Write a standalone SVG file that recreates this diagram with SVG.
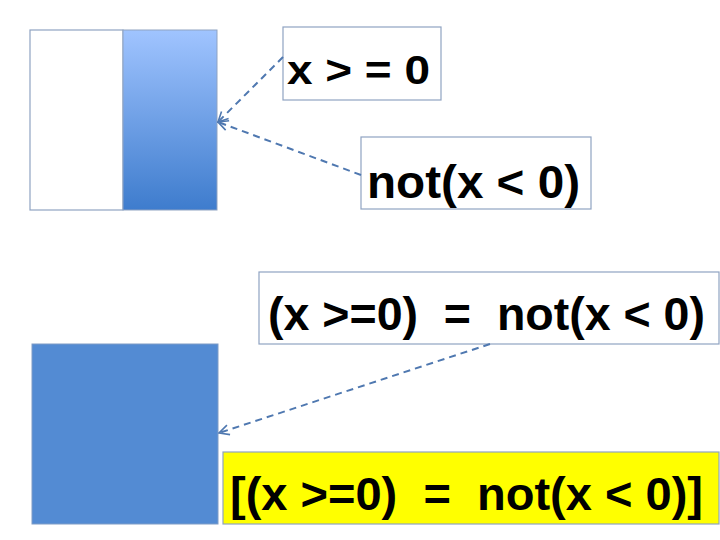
<svg xmlns="http://www.w3.org/2000/svg" width="720" height="540" viewBox="0 0 720 540">
<defs>
<linearGradient id="blueGrad" x1="0" y1="0" x2="0" y2="1">
<stop offset="0" stop-color="#A0C4FF"/>
<stop offset="1" stop-color="#3E7CCD"/>
</linearGradient>
<marker id="arr" viewBox="0 0 12 12" refX="11" refY="6" markerWidth="12" markerHeight="12" markerUnits="userSpaceOnUse" orient="auto">
<path d="M1,1 L11,6 L1,11" fill="none" stroke="#4F78B0" stroke-width="1.6"/>
</marker>
</defs>
<style>
.box{fill:#FFFFFF;stroke:#8FA3C2;stroke-width:1.2}
.lbl{font-family:"Liberation Sans",Arial,sans-serif;font-weight:bold;fill:#000;white-space:pre}
.conn{fill:none;stroke:#4F78B0;stroke-width:2;stroke-dasharray:7,5;marker-end:url(#arr)}
</style>
<rect width="720" height="540" fill="#FFFFFF"/>
<g id="split-rect">
<rect x="30" y="30" width="93" height="180" fill="#FFFFFF" stroke="#8FA3C2" stroke-width="1.2"/>
<rect x="123" y="30" width="94" height="180" fill="url(#blueGrad)" stroke="#8FA3C2" stroke-width="1"/>
</g>
<g id="full-rect">
<rect x="32" y="344" width="186" height="180" fill="#538BD3" stroke="#7F9CC6" stroke-width="1"/>
</g>
<g id="label-ge">
<rect class="box" x="283" y="27" width="158" height="73"/>
<text class="lbl" x="287" y="84" font-size="40" textLength="143" lengthAdjust="spacingAndGlyphs">x &gt; = 0</text>
</g>
<g id="label-not">
<rect class="box" x="361" y="137" width="230" height="72"/>
<text class="lbl" x="367" y="198" font-size="47" textLength="213" lengthAdjust="spacingAndGlyphs">not(x &lt; 0)</text>
</g>
<g id="label-eq">
<rect class="box" x="259" y="272" width="460" height="72"/>
<text class="lbl" x="268" y="330" font-size="47" textLength="437" lengthAdjust="spacingAndGlyphs">(x &gt;=0)  =  not(x &lt; 0)</text>
</g>
<g id="label-bracket">
<rect x="223" y="452" width="496" height="72" fill="#FFFF00" stroke="#8FA3C2" stroke-width="1.2"/>
<text class="lbl" x="230" y="510" font-size="47" textLength="473" lengthAdjust="spacingAndGlyphs">[(x &gt;=0)  =  not(x &lt; 0)]</text>
</g>
<g id="connectors">
<path class="conn" d="M283,57 L218,122"/>
<path class="conn" d="M361,175 L218,122"/>
<path class="conn" d="M490,344 L219,433"/>
</g>
</svg>
